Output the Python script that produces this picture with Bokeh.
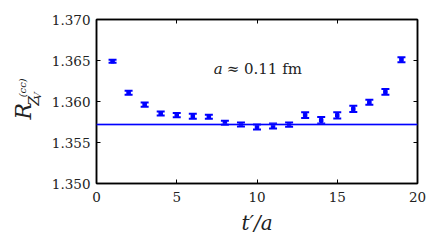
import math
from bokeh.plotting import figure
from bokeh.layouts import row
from bokeh.core.properties import value
from bokeh.models import (Whisker, TeeHead, ColumnDataSource, Label, Span, BoxAnnotation,
                          LinearAxis, FixedTicker, Range1d)
from bokeh.embed import file_html
from bokeh.resources import INLINE

# data
t_vals = [1, 2, 3, 4, 5, 6, 7, 8, 9, 10, 11, 12, 13, 14, 15, 16, 17, 18, 19]
r_vals = [1.36491, 1.36106, 1.35961, 1.35854, 1.35835, 1.35821, 1.35813, 1.35740, 1.35720,
          1.35689, 1.35701, 1.35717, 1.35835, 1.35771, 1.35831, 1.35909, 1.35990, 1.36116, 1.36510]
r_errs = [0.00018, 0.00024, 0.00026, 0.00024, 0.00026, 0.00030, 0.00024, 0.00024, 0.00024,
          0.00030, 0.00030, 0.00026, 0.00035, 0.00040, 0.00038, 0.00038, 0.00030, 0.00035, 0.00030]
fit_value = 1.3572
fit_err = 0.00012
x_ticks = [0, 5, 10, 15, 20]
y_ticks = [1.350, 1.355, 1.360, 1.365, 1.370]
y_tick_labels = ["1.350", "1.355", "1.360", "1.365", "1.370"]

BLUE = "#0000ff"
SERIF = "DejaVu Serif"
TXT = "#222222"
H = 238
LW = 48          # width of the y-label strip
W = 428 - LW     # main figure width

# ---- y-label strip: R_{Z_V^{(cc)}} (pixel-mapped ranges, y downward) ----
lab = figure(width=LW, height=H, output_backend="svg", toolbar_location=None,
             x_range=Range1d(0, LW), y_range=Range1d(H, 0),
             x_axis_location=None, y_axis_location=None,
             min_border=0, min_border_left=0, min_border_right=0,
             min_border_top=0, min_border_bottom=0)
lab.grid.visible = False
lab.outline_line_color = None
lab.background_fill_color = "white"
lab.border_fill_color = "white"
ang = math.pi / 2
DY = 18
for txt, xs, ys, fs in [("R", 23, 127, "22px"), ("Z", 33, 107, "14px"),
                        ("V", 37, 98, "10px"), ("(cc)", 22, 95, "10px")]:
    lab.text(x=[xs], y=[ys + DY], text=[txt], angle=ang, text_font=value(SERIF),
             text_font_style="italic", text_font_size=fs, text_color=TXT,
             text_align="left", text_baseline="alphabetic")

# ---- main plot ----
p = figure(width=W, height=H, output_backend="svg", toolbar_location=None,
           x_range=Range1d(0, 20), y_range=Range1d(1.350, 1.370),
           min_border_left=95 - LW, min_border_right=11, min_border_top=19, min_border_bottom=55)
p.grid.visible = False
p.outline_line_color = "black"
p.outline_line_width = 1.5
p.background_fill_color = "white"
p.border_fill_color = "white"

for ax in [p.xaxis[0], p.yaxis[0]]:
    ax.major_tick_in = 4
    ax.major_tick_out = 0
    ax.minor_tick_in = 0
    ax.minor_tick_out = 0
    ax.axis_line_color = "black"
    ax.axis_line_width = 1.5
    ax.major_tick_line_width = 1
    ax.major_label_text_font = SERIF
    ax.major_label_text_font_size = "13.5px"
    ax.major_label_text_color = TXT

p.xaxis[0].ticker = FixedTicker(ticks=x_ticks)
p.yaxis[0].ticker = FixedTicker(ticks=y_ticks)
p.yaxis[0].major_label_overrides = {v: s for v, s in zip(y_ticks, y_tick_labels)}
p.xaxis[0].major_label_standoff = 8
p.yaxis[0].major_label_standoff = 6
p.xaxis[0].axis_label = "t\u2032/a"
p.xaxis[0].axis_label_text_font = SERIF
p.xaxis[0].axis_label_text_font_style = "italic"
p.xaxis[0].axis_label_text_font_size = "20px"
p.xaxis[0].axis_label_standoff = 6
p.xaxis[0].axis_label_text_color = TXT

for loc, tk in [("above", x_ticks), ("right", y_ticks)]:
    a = LinearAxis(ticker=FixedTicker(ticks=tk), major_tick_in=4, major_tick_out=0,
                   minor_tick_in=0, minor_tick_out=0,
                   major_label_overrides={v: "" for v in tk},
                   major_label_standoff=0, axis_line_color="black", axis_line_width=1.5)
    p.add_layout(a, loc)

# fit band and line
p.add_layout(BoxAnnotation(bottom=fit_value - fit_err, top=fit_value + fit_err,
                           fill_color="#8888ff", fill_alpha=0.45, line_color=None))
p.add_layout(Span(location=fit_value, dimension="width", line_color=BLUE, line_width=1.5))

src = ColumnDataSource(dict(t=t_vals, r=r_vals,
                            lo=[v - e for v, e in zip(r_vals, r_errs)],
                            hi=[v + e for v, e in zip(r_vals, r_errs)]))
w = Whisker(source=src, base="t", lower="lo", upper="hi", line_color=BLUE, line_width=3,
            lower_head=TeeHead(size=8, line_color=BLUE, line_width=2),
            upper_head=TeeHead(size=8, line_color=BLUE, line_width=2))
p.add_layout(w)
p.scatter("t", "r", source=src, size=3.5, marker="square", color=BLUE)

# annotation
p.add_layout(Label(x=7.3, y=1.36285, text="a", text_font=SERIF, text_font_style="italic",
                   text_font_size="15px", text_color=TXT))
p.add_layout(Label(x=7.3, y=1.36285, x_offset=13, text="\u2248 0.11 fm", text_font=SERIF,
                   text_font_size="15px", text_color=TXT))

layout = row(lab, p, spacing=0)
open("out.html", "w").write(file_html(layout, INLINE))
